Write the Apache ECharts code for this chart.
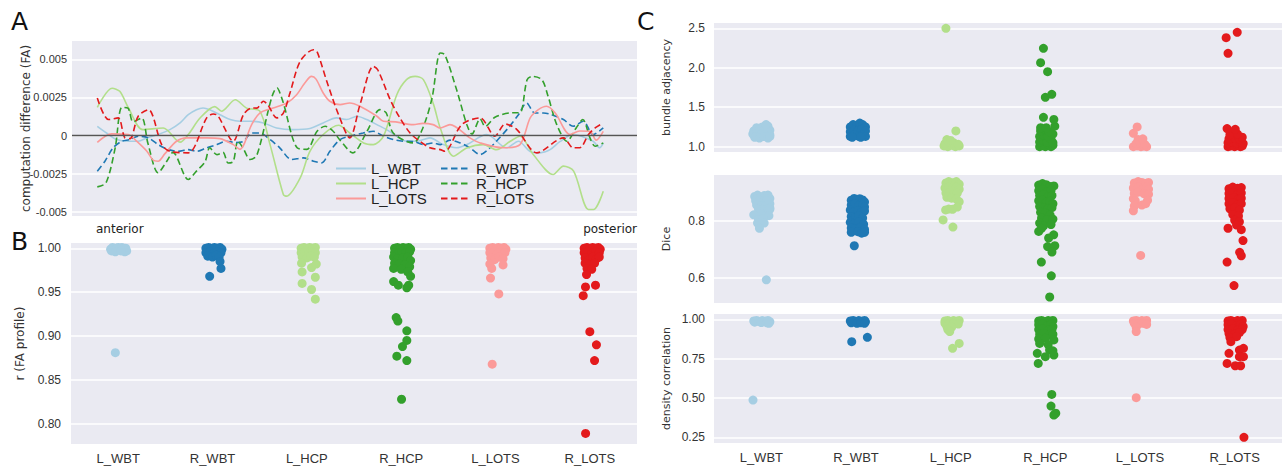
<!DOCTYPE html>
<html>
<head>
<meta charset="utf-8">
<title>FA profile and bundle comparisons</title>
<script src="https://cdn.jsdelivr.net/npm/echarts@6/dist/echarts.min.js"></script>
<style>
  html, body { margin: 0; padding: 0; background: #fff; }
  #chart { width: 1282px; height: 466px; }
</style>
</head>
<body>
<div id="chart"></div>
<script>
const categories = ['L_WBT', 'R_WBT', 'L_HCP', 'R_HCP', 'L_LOTS', 'R_LOTS']
const colors = ['#a6cee3', '#1f78b4', '#b2df8a', '#33a02c', '#fb9a99', '#e31a1c']

const tickFA = [-0.005, -0.0025, 0, 0.0025, 0.005]
const tickR = [0.8, 0.85, 0.9, 0.95, 1.0]
const tickAdj = [1.0, 1.5, 2.0, 2.5]
const tickDice = [0.6, 0.8]
const tickDens = [0.25, 0.5, 0.75, 1.0]

// panel A: [node, FA difference in units of 0.001]
const diffL_WBT = [[0,0.61],[1.8,0.17],[3.8,-0.26],[6.1,-0.37],[8.0,-0.37],[9.7,-0.15],[11.9,0.07],[14.2,0.39],[16.2,0.83],[17.8,1.37],[19.4,1.7],[20.7,1.81],[22.0,1.7],[24.0,1.37],[26.0,1.05],[27.9,0.94],[29.9,0.94],[32.5,0.83],[35.1,0.5],[38.3,0.39],[41.6,0.46],[44.2,0.83],[46.8,1.16],[48.8,1.05],[50.8,1.27],[52.7,1.05],[54.7,0.72],[56.6,0.39],[58.6,-0.04],[60.5,-0.37],[62.5,-0.37],[65.1,-0.15],[67.7,-0.59],[70.3,-0.8],[72.3,-0.59],[76.2,0.07],[80.1,-0.8],[82.4,-0.37],[84.7,-1.05],[86.6,-1.13],[88.6,-0.92],[90.5,-0.4],[93.1,0.07],[97.0,-0.37],[98.3,-0.8],[99,-0.5]]
const diffR_WBT = [[0,-2.33],[1.5,-1.68],[3.1,-0.8],[4.8,-0.37],[6.4,-0.26],[8.0,-0.04],[10.0,-0.15],[11.9,-0.59],[13.9,-0.92],[15.8,-1.03],[17.8,-0.92],[19.4,-1.03],[21.4,-0.8],[23.4,-0.59],[25.3,-0.37],[27.0,-0.45],[28.6,-0.37],[30.2,0.17],[31.8,0.17],[33.8,-0.26],[35.7,-0.8],[38.0,-1.57],[40.3,-1.46],[42.3,-1.68],[43.9,-1.79],[45.5,-1.03],[47.5,-0.26],[49.4,-0.04],[52.0,0.17],[54.0,0.28],[56.0,-0.04],[57.9,-0.26],[59.9,-0.37],[62.0,-0.4],[63.8,-0.59],[65.7,-0.48],[67.1,-0.59],[69.0,-0.3],[71.0,-0.48],[72.9,-0.8],[74.9,-1.24],[76.5,-0.9],[78.1,-0.37],[80.4,0.5],[82.4,1.37],[84.0,2.14],[85.6,1.48],[87.3,1.48],[88.6,1.4],[91.2,1.05],[93.1,0.61],[95.1,0.94],[97.0,0.07],[99,0.5]]
const diffL_HCP = [[0,1.85],[2.9,3.1],[4.4,2.9],[6.1,1.81],[8.9,0.39],[12.9,0.5],[16.2,-0.43],[17.8,0.07],[20.1,1.15],[23.0,1.9],[24.3,1.6],[27.0,2.35],[29.2,1.8],[31.8,1.6],[33.8,-0.59],[36.4,-3.86],[37.0,-3.97],[39.7,-2.77],[41.6,-1.03],[44.2,0.07],[47.2,0.68],[49.4,0.17],[52.1,-0.48],[54.0,-0.59],[56.0,-0.04],[58.6,2.68],[60.5,3.67],[62.2,3.88],[63.8,3.67],[65.8,2.03],[67.1,0.5],[69.7,-1.35],[72.3,-0.81],[75.5,-0.59],[78.1,-0.92],[80.8,-0.37],[82.7,-0.04],[85.3,-1.24],[89.2,-2.55],[91.2,-2.0],[93.2,-2.33],[96.1,-4.84],[97.1,-4.84],[99,-3.64]]
const diffR_HCP = [[0,-3.36],[1.7,-3.1],[3.5,-0.8],[4.8,1.85],[6.0,1.8],[7.0,0.9],[8.7,1.16],[9.9,-0.5],[11.9,-2.44],[13.6,-1.68],[14.8,-1.1],[17.8,-2.88],[19.4,-2.33],[21.1,-1.7],[22.0,-0.8],[23.4,-1.25],[24.6,-1.1],[25.6,-1.8],[26.6,-1.7],[27.5,-0.37],[28.5,-0.8],[29.9,-1.57],[31.2,-1.3],[35.2,3.12],[36.3,2.25],[39.1,-0.8],[41.0,-0.9],[43.0,0.28],[44.6,0.61],[46.1,0.3],[47.5,-0.3],[50.0,-1.13],[52.8,0.3],[55.3,1.7],[56.5,1.5],[57.9,0.17],[61.8,-0.48],[63.7,0.5],[65.5,2.47],[67.1,5.41],[68.0,5.3],[70.4,2.9],[72.3,0.72],[73.3,0.1],[74.9,1.1],[75.9,0.6],[77.8,1.2],[81.3,1.5],[82.7,1.5],[84.1,3.66],[85.2,3.88],[87.0,3.66],[88.2,2.58],[89.9,0.72],[91.9,-0.37],[93.7,0.5],[95.0,1.05],[96.4,-0.15],[97.4,-0.7],[99,-0.48]]
const diffL_LOTS = [[0,-0.44],[2.8,0.11],[6.1,0.07],[7.8,-0.4],[9.7,-1.03],[10.9,-1.6],[11.9,-1.68],[13.2,-1.2],[15.5,-0.37],[17.5,-0.15],[21.4,-0.15],[24.0,-0.2],[26.6,-0.59],[27.9,-0.9],[30.2,0.72],[31.8,1.48],[34.4,1.81],[37.1,2.14],[39.0,2.68],[40.6,3.45],[41.9,3.88],[42.8,3.7],[44.2,2.79],[45.5,2.25],[47.5,2.03],[49.4,2.14],[51.4,1.92],[54.7,1.27],[56.0,0.94],[58.4,0.9],[61.8,0.72],[63.7,0.8],[65.7,0.72],[67.1,0.5],[69.0,0.72],[72.9,-0.15],[74.9,-0.48],[79.4,-0.8],[82.7,-0.59],[84.7,1.16],[86.3,1.7],[87.9,1.92],[89.6,1.48],[92.5,0.07],[94.4,0.3],[96.4,0.28],[97.6,-0.3],[99,0.28]]
const diffR_LOTS = [[0,2.46],[2.2,1.05],[4.1,1.16],[5.4,-0.15],[6.4,-0.2],[8.0,1.27],[10.0,1.7],[12.6,-0.59],[14.2,-1.03],[17.8,-1.13],[21.4,1.16],[22.7,1.42],[23.6,1.3],[26.6,-0.37],[28.6,1.37],[30.2,1.81],[31.2,1.8],[32.5,2.25],[33.4,2.0],[35.1,1.16],[36.4,1.48],[37.7,2.79],[39.7,4.87],[42.3,5.63],[43.0,5.5],[44.9,3.56],[47.2,1.37],[49.4,-0.15],[51.4,2.03],[54.0,4.54],[54.9,4.3],[57.3,2.36],[59.2,1.16],[61.2,0.17],[63.1,-0.37],[65.1,-0.8],[67.1,-0.92],[68.0,-1.03],[71.3,0.72],[74.9,1.16],[77.8,-0.04],[79.8,0.76],[82.1,0.39],[86.0,-1.13],[91.2,-0.15],[93.1,-0.8],[94.4,-0.8],[96.1,0.07],[97.4,0.5],[99,0.83]]

// panel B: [jitter offset, r]
const rFA_L_WBT = [[-0.08,0.999],[-0.06,1.001],[-0.04,0.998],[-0.02,1.0],[0.0,1.001],[0.02,0.999],[0.04,1.001],[0.06,0.999],[0.08,1.0],[0.07,0.996],[0.09,0.997],[-0.07,0.997],[-0.03,0.996],[0.03,0.997],[-0.03,0.881]]
const rFA_R_WBT = [[-0.07,1.0],[-0.04,1.001],[-0.01,0.999],[0.02,1.001],[0.05,1.0],[0.08,1.001],[0.1,0.999],[-0.07,0.995],[-0.03,0.996],[0.01,0.994],[0.05,0.996],[0.09,0.995],[-0.05,0.991],[0.0,0.99],[0.04,0.992],[0.07,0.99],[0.08,0.985],[0.09,0.977],[-0.03,0.968]]
const rFA_L_HCP = [[-0.06,1.0],[-0.03,1.001],[0.0,0.999],[0.03,1.001],[0.06,1.0],[0.09,1.001],[-0.06,0.995],[-0.02,0.996],[0.02,0.994],[0.06,0.996],[0.09,0.995],[-0.05,0.99],[0.0,0.989],[0.04,0.991],[0.08,0.99],[-0.056,0.983],[0.05,0.978],[0.1,0.982],[-0.05,0.973],[0.09,0.967],[-0.05,0.96],[0.05,0.953],[0.09,0.942]]
const rFA_R_HCP = [[-0.07,1.0],[-0.04,1.001],[-0.01,0.999],[0.02,1.001],[0.05,1.0],[0.08,1.001],[0.1,0.999],[-0.07,0.995],[-0.03,0.994],[0.01,0.996],[0.05,0.995],[0.09,0.996],[-0.08,0.99],[-0.04,0.988],[0.02,0.989],[0.07,0.99],[0.1,0.986],[-0.07,0.983],[-0.02,0.982],[0.04,0.981],[0.09,0.979],[-0.08,0.977],[0.0,0.976],[0.07,0.973],[0.1,0.968],[-0.08,0.962],[-0.03,0.958],[0.08,0.958],[0.06,0.955],[-0.053,0.921],[-0.035,0.917],[0.06,0.906],[0.06,0.895],[0.014,0.888],[-0.046,0.877],[0.06,0.872],[0.004,0.828]]
const rFA_L_LOTS = [[-0.06,1.0],[-0.03,1.001],[0.0,0.999],[0.03,1.001],[0.06,1.0],[0.09,1.001],[0.11,0.999],[-0.06,0.995],[-0.02,0.996],[0.02,0.994],[0.06,0.996],[0.1,0.995],[-0.05,0.989],[-0.01,0.987],[0.04,0.99],[0.08,0.988],[-0.06,0.982],[-0.04,0.977],[0.08,0.981],[-0.053,0.966],[0.035,0.948],[-0.035,0.868]]
const rFA_R_LOTS = [[-0.06,1.0],[-0.03,1.001],[0.0,0.999],[0.03,1.001],[0.06,1.0],[0.09,1.001],[0.11,0.999],[-0.06,0.995],[-0.02,0.996],[0.02,0.994],[0.06,0.996],[0.1,0.995],[-0.05,0.989],[-0.01,0.987],[0.03,0.99],[0.07,0.988],[0.1,0.99],[-0.05,0.983],[0.0,0.981],[0.05,0.983],[-0.03,0.977],[0.02,0.976],[-0.035,0.97],[-0.046,0.956],[0.06,0.958],[-0.07,0.946],[0.0,0.905],[0.07,0.89],[0.05,0.872],[-0.045,0.789]]

// panel C top: [jitter offset, bundle adjacency]
const adj_L_WBT = [[-0.08,1.2],[-0.05,1.24],[-0.02,1.22],[0.01,1.25],[0.04,1.23],[0.07,1.26],[0.09,1.21],[-0.09,1.16],[-0.05,1.17],[0.0,1.16],[0.05,1.18],[0.09,1.15],[-0.07,1.12],[-0.02,1.11],[0.03,1.13],[0.07,1.11],[0.09,1.13],[0.05,1.28]]
const adj_R_WBT = [[-0.06,1.25],[-0.03,1.28],[0.01,1.27],[0.04,1.3],[0.07,1.28],[0.1,1.25],[-0.06,1.19],[-0.02,1.21],[0.02,1.2],[0.06,1.22],[0.1,1.2],[-0.06,1.13],[-0.02,1.15],[0.03,1.13],[0.07,1.15],[0.1,1.13],[-0.04,1.12],[0.05,1.12]]
const adj_L_HCP = [[-0.07,1.01],[-0.03,1.0],[0.01,1.02],[0.05,1.0],[0.09,1.01],[-0.06,1.04],[-0.02,1.06],[0.03,1.05],[0.08,1.03],[-0.04,1.09],[0.0,1.08],[0.055,1.2],[-0.05,2.5]]
const adj_R_HCP = [[-0.06,1.0],[-0.03,1.02],[0.0,1.0],[0.03,1.03],[0.06,1.0],[0.08,1.02],[-0.06,1.06],[-0.02,1.08],[0.02,1.06],[0.06,1.09],[0.08,1.05],[-0.06,1.13],[-0.02,1.15],[0.03,1.13],[0.08,1.16],[-0.05,1.2],[0.0,1.22],[0.04,1.19],[-0.05,1.24],[0.1,1.26],[0.01,1.24],[-0.02,1.372],[0.09,1.346],[0.0,1.625],[0.068,1.663],[0.024,1.95],[-0.05,2.065],[-0.02,2.246]]
const adj_L_LOTS = [[-0.07,1.0],[-0.03,1.01],[0.01,1.0],[0.04,1.01],[0.07,1.0],[-0.04,1.04],[0.0,1.06],[0.05,1.03],[-0.02,1.09],[0.03,1.1],[-0.07,1.17],[-0.03,1.25]]
const adj_R_LOTS = [[-0.07,1.0],[-0.04,1.01],[0.0,1.0],[0.03,1.02],[0.06,1.0],[0.08,1.01],[-0.07,1.05],[-0.03,1.06],[0.02,1.05],[0.06,1.06],[0.09,1.04],[-0.06,1.1],[0.0,1.11],[0.05,1.1],[0.08,1.12],[-0.05,1.15],[0.03,1.16],[-0.08,1.23],[0.006,1.22],[-0.07,2.183],[-0.09,2.381],[0.027,2.449]]

// panel C middle: [jitter offset, Dice]
const dice_L_WBT = [[-0.07,0.885],[-0.04,0.89],[-0.01,0.882],[0.03,0.888],[0.07,0.89],[0.09,0.878],[-0.06,0.87],[-0.02,0.872],[0.02,0.866],[0.06,0.87],[0.09,0.86],[-0.05,0.855],[0.0,0.852],[0.05,0.855],[0.09,0.845],[-0.03,0.84],[0.03,0.838],[0.07,0.835],[0.09,0.84],[-0.08,0.821],[0.0,0.825],[0.05,0.82],[0.08,0.818],[-0.03,0.805],[0.02,0.808],[-0.04,0.792],[0.03,0.792],[-0.02,0.774],[0.053,0.594]]
const dice_R_WBT = [[-0.05,0.872],[-0.02,0.878],[0.01,0.874],[0.04,0.877],[0.07,0.873],[0.09,0.866],[-0.05,0.855],[-0.01,0.86],[0.03,0.852],[0.07,0.856],[0.09,0.848],[-0.06,0.838],[-0.02,0.832],[0.02,0.836],[0.06,0.83],[0.09,0.834],[-0.05,0.815],[-0.01,0.81],[0.03,0.818],[0.07,0.81],[-0.06,0.795],[-0.02,0.79],[0.03,0.796],[0.08,0.788],[-0.05,0.775],[-0.01,0.772],[0.04,0.776],[0.09,0.77],[-0.05,0.76],[0.02,0.762],[0.06,0.757],[0.09,0.76],[-0.018,0.713]]
const dice_L_HCP = [[-0.05,0.932],[-0.02,0.937],[0.02,0.933],[0.06,0.937],[0.09,0.928],[-0.06,0.915],[-0.02,0.918],[0.02,0.912],[0.06,0.917],[0.09,0.91],[-0.05,0.897],[-0.01,0.9],[0.03,0.893],[0.07,0.897],[-0.04,0.882],[0.01,0.879],[0.06,0.876],[0.09,0.867],[0.07,0.848],[0.02,0.84],[-0.02,0.841],[-0.053,0.838],[-0.08,0.803],[0.024,0.778]]
const dice_R_HCP = [[-0.07,0.925],[-0.03,0.93],[0.01,0.926],[0.05,0.92],[0.09,0.922],[-0.07,0.905],[-0.03,0.91],[0.02,0.902],[0.06,0.906],[-0.06,0.888],[-0.02,0.892],[0.03,0.884],[0.07,0.888],[-0.07,0.87],[-0.03,0.873],[0.01,0.865],[0.05,0.868],[0.08,0.86],[-0.06,0.85],[-0.02,0.845],[0.03,0.842],[0.07,0.846],[-0.05,0.83],[0.0,0.826],[0.05,0.82],[-0.04,0.81],[0.02,0.803],[0.08,0.806],[-0.06,0.792],[-0.02,0.782],[0.06,0.787],[-0.07,0.763],[-0.04,0.774],[0.088,0.751],[0.035,0.74],[0.024,0.71],[0.1,0.713],[0.07,0.691],[-0.042,0.656],[0.063,0.608],[0.046,0.534]]
const dice_L_LOTS = [[-0.06,0.932],[-0.02,0.937],[0.02,0.934],[0.06,0.93],[0.09,0.934],[-0.07,0.915],[-0.02,0.918],[0.03,0.912],[0.07,0.918],[0.09,0.91],[-0.06,0.895],[-0.02,0.9],[0.04,0.895],[0.09,0.893],[-0.07,0.877],[-0.05,0.87],[0.08,0.872],[0.02,0.855],[0.06,0.86],[-0.06,0.852],[-0.07,0.835],[0.007,0.679]]
const dice_R_LOTS = [[-0.06,0.912],[-0.02,0.918],[0.03,0.914],[0.07,0.916],[-0.06,0.895],[-0.02,0.9],[0.03,0.893],[0.07,0.897],[-0.06,0.878],[-0.01,0.881],[0.04,0.875],[0.07,0.879],[-0.06,0.86],[-0.02,0.864],[0.03,0.855],[0.07,0.86],[-0.05,0.842],[0.0,0.845],[0.05,0.837],[-0.02,0.822],[0.04,0.817],[0.0,0.802],[0.05,0.797],[0.02,0.785],[-0.07,0.774],[0.07,0.769],[0.088,0.731],[0.053,0.69],[0.07,0.678],[-0.08,0.656],[-0.007,0.574]]

// panel C bottom: [jitter offset, density correlation]
const dens_L_WBT = [[-0.08,0.99],[-0.05,0.993],[-0.02,0.985],[0.01,0.992],[0.04,0.988],[0.07,0.993],[0.09,0.985],[-0.07,0.982],[0.0,0.98],[0.06,0.978],[0.08,0.975],[-0.088,0.487]]
const dens_R_WBT = [[-0.06,0.99],[-0.03,0.993],[0.0,0.986],[0.03,0.992],[0.06,0.988],[0.09,0.993],[0.1,0.985],[-0.05,0.978],[0.01,0.975],[0.05,0.978],[0.09,0.975],[-0.045,0.858],[0.12,0.886]]
const dens_L_HCP = [[-0.06,0.99],[-0.03,0.993],[0.0,0.986],[0.03,0.992],[0.06,0.988],[0.09,0.993],[-0.06,0.975],[-0.02,0.97],[0.03,0.976],[0.08,0.97],[-0.04,0.955],[0.01,0.95],[-0.03,0.935],[-0.01,0.922],[0.09,0.847],[0.02,0.816]]
const dens_R_HCP = [[-0.07,0.99],[-0.04,0.993],[0.0,0.986],[0.03,0.992],[0.06,0.988],[0.08,0.993],[-0.07,0.965],[-0.03,0.97],[0.02,0.96],[0.06,0.965],[0.08,0.955],[-0.07,0.935],[-0.03,0.94],[0.03,0.93],[0.07,0.935],[-0.06,0.905],[-0.02,0.91],[0.04,0.9],[0.08,0.905],[-0.07,0.875],[0.0,0.88],[0.09,0.869],[-0.06,0.847],[0.03,0.84],[0.045,0.805],[0.08,0.8],[-0.085,0.784],[0.0,0.763],[0.09,0.773],[-0.075,0.72],[0.068,0.523],[0.06,0.449],[0.09,0.392],[0.11,0.403]]
const dens_L_LOTS = [[-0.07,0.99],[-0.04,0.993],[-0.01,0.986],[0.02,0.992],[0.05,0.988],[0.07,0.993],[-0.06,0.975],[-0.02,0.97],[0.03,0.975],[0.07,0.968],[-0.04,0.95],[-0.04,0.922],[-0.04,0.502]]
const dens_R_LOTS = [[-0.07,0.99],[-0.04,0.993],[0.0,0.986],[0.03,0.992],[0.06,0.988],[0.08,0.993],[-0.07,0.965],[-0.03,0.97],[0.02,0.96],[0.06,0.965],[0.09,0.955],[-0.07,0.935],[-0.02,0.94],[0.03,0.93],[0.08,0.935],[-0.06,0.91],[0.0,0.905],[0.05,0.915],[-0.05,0.885],[0.02,0.89],[-0.04,0.858],[-0.06,0.784],[0.05,0.805],[0.093,0.816],[0.093,0.763],[0.05,0.763],[-0.08,0.72],[0.006,0.705],[0.063,0.705],[0.098,0.25]]

const profiles = [diffL_WBT, diffR_WBT, diffL_HCP, diffR_HCP, diffL_LOTS, diffR_LOTS]
const rFA = [rFA_L_WBT, rFA_R_WBT, rFA_L_HCP, rFA_R_HCP, rFA_L_LOTS, rFA_R_LOTS]
const adjacency = [adj_L_WBT, adj_R_WBT, adj_L_HCP, adj_R_HCP, adj_L_LOTS, adj_R_LOTS]
const dice = [dice_L_WBT, dice_R_WBT, dice_L_HCP, dice_R_HCP, dice_L_LOTS, dice_R_LOTS]
const density = [dens_L_WBT, dens_R_WBT, dens_L_HCP, dens_R_HCP, dens_L_LOTS, dens_R_LOTS]

const tickFont = 'Liberation Sans'
const nameFont = 'DejaVu Sans'
const bg = '#eaeaf2'

const chart = echarts.init(document.getElementById('chart'), null, {renderer: 'svg'})

function grid(left, top, width, height) {
    return {left, top, width, height, show: true, backgroundColor: bg, borderWidth: 0, containLabel: false, outerBoundsMode: 'none'}
}

function yAxis(gridIndex, min, max, ticks, fmt, name, nameSize, nameGap, margin, labelSize) {
    return {
        type: 'value', gridIndex, min, max, name,
        nameLocation: 'middle', nameGap, nameMoveOverlap: false,
        nameTextStyle: {fontFamily: nameFont, fontSize: nameSize, color: '#333'},
        axisLine: {show: false},
        axisTick: {show: false, customValues: ticks},
        axisLabel: {customValues: ticks, formatter: fmt, margin, color: '#333', fontSize: labelSize, fontFamily: tickFont},
        splitLine: {show: true, lineStyle: {color: '#fff', width: 1.5}}
    }
}

function hiddenX(gridIndex) {
    return {type: 'value', gridIndex, min: -0.5, max: 5.5, show: false, position: 'top'}
}

function labelX(gridIndex) {
    return {
        type: 'category', gridIndex, data: categories, position: 'bottom',
        axisLine: {show: false}, axisTick: {show: false}, splitLine: {show: false},
        axisLabel: {interval: 0, margin: 8, color: '#333', fontSize: 13, fontFamily: tickFont}
    }
}

const series = []
profiles.forEach((d, i) => {
    series.push({
        name: categories[i],
        type: 'line',
        xAxisIndex: 0,
        yAxisIndex: 0,
        data: d.map(p => [p[0], p[1] / 1000]),
        smooth: 0.3,
        symbol: 'none',
        lineStyle: {color: colors[i], width: 1.6, type: i % 2 ? [6.5, 3.5] : 'solid'},
        itemStyle: {color: colors[i]},
        markLine: i === 0 ? {
            silent: true, symbol: 'none', label: {show: false},
            lineStyle: {color: '#555', width: 1.4, type: 'solid'},
            data: [{yAxis: 0}]
        } : undefined
    })
})

function strip(sets, xIndex, yIndex, prefix) {
    sets.forEach((pts, i) => {
        series.push({
            name: prefix + categories[i],
            type: 'scatter',
            xAxisIndex: xIndex,
            yAxisIndex: yIndex,
            symbolSize: 9,
            itemStyle: {color: colors[i], opacity: 1},
            data: pts.map(p => [i + p[0], p[1]])
        })
    })
}
strip(rFA, 2, 1, 'r ')
strip(adjacency, 3, 2, 'adj ')
strip(dice, 4, 3, 'dice ')
strip(density, 6, 4, 'dens ')

const legendStyle = {
    orient: 'vertical', top: 161, itemWidth: 30, itemHeight: 12, itemGap: 0, padding: 0,
    selectedMode: false,
    itemStyle: {opacity: 0},
    textStyle: {fontSize: 15, lineHeight: 15, fontFamily: tickFont, color: '#222'}
}

const option = {
    animation: false,
    grid: [
        grid(72, 41, 565, 175),
        grid(71, 243, 566, 201),
        grid(714, 23, 568, 129),
        grid(714, 175, 568, 128),
        grid(714, 314, 568, 129)
    ],
    xAxis: [
        {type: 'value', gridIndex: 0, min: -4.95, max: 105.6, show: false},
        labelX(1),
        hiddenX(1),
        hiddenX(2),
        hiddenX(3),
        labelX(4),
        hiddenX(4)
    ],
    yAxis: [
        yAxis(0, -0.00527, 0.0062, tickFA, v => v === 0 ? '0' : String(+v.toFixed(4)), 'computation difference (FA)', 12, 40, 5, 11),
        yAxis(1, 0.777, 1.006, tickR, v => v.toFixed(2), 'r (FA profile)', 12, 45, 10, 12),
        yAxis(2, 0.933, 2.567, tickAdj, v => v.toFixed(1), 'bundle adjacency', 11, 42, 9, 12),
        yAxis(3, 0.513, 0.96, tickDice, v => v.toFixed(1), 'Dice', 11, 42, 9, 12),
        yAxis(4, 0.214, 1.034, tickDens, v => v.toFixed(2), 'density correlation', 11, 42, 9, 12)
    ],
    legend: [
        Object.assign({data: ['L_WBT', 'L_HCP', 'L_LOTS'], left: 335}, legendStyle),
        Object.assign({data: ['R_WBT', 'R_HCP', 'R_LOTS'], left: 440}, legendStyle)
    ],
    graphic: [
        {type: 'text', left: 11, top: 9, style: {text: 'A', fontSize: 25, fontFamily: nameFont, fill: '#111'}},
        {type: 'text', left: 11, top: 229, style: {text: 'B', fontSize: 25, fontFamily: nameFont, fill: '#111'}},
        {type: 'text', left: 637, top: 9, style: {text: 'C', fontSize: 25, fontFamily: nameFont, fill: '#111'}},
        {type: 'text', left: 96, top: 223, style: {text: 'anterior', fontSize: 12, fontFamily: nameFont, fill: '#222'}},
        {type: 'text', right: 645, top: 223, style: {text: 'posterior', fontSize: 12, fontFamily: nameFont, fill: '#222'}}
    ],
    series: series
}
chart.setOption(option)
</script>
</body>
</html>
